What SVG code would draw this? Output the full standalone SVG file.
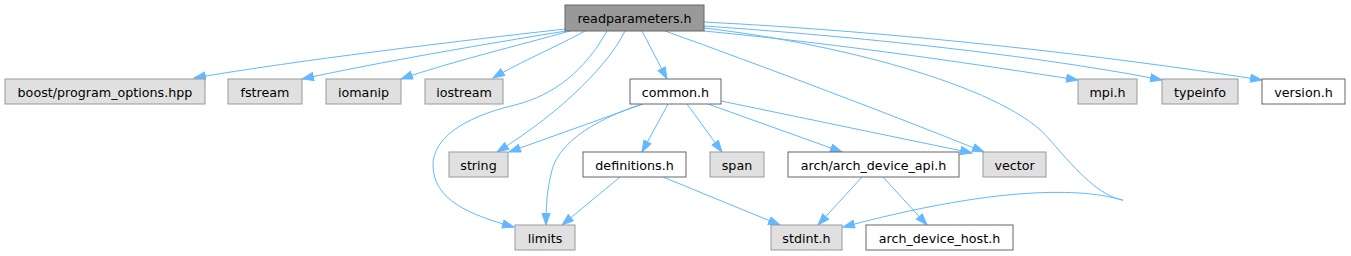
<svg xmlns="http://www.w3.org/2000/svg" width="1351" height="256" viewBox="0 0 1351 256">
<style>
.n rect{stroke-width:1}
.g rect{fill:#e0e0e0;stroke:#999999}
.w rect{fill:#ffffff;stroke:#666666}
.r rect{fill:#999999;stroke:#666666}
text{font-family:"DejaVu Sans",sans-serif;font-size:12.7px;fill:#000;text-anchor:middle}
.e path{fill:none;stroke:#63b8ff;stroke-width:1;marker-end:url(#a)}
</style>
<defs>
<marker id="a" markerUnits="userSpaceOnUse" markerWidth="13" markerHeight="10" refX="12" refY="4.5" orient="auto" viewBox="0 0 13 10">
<path d="M0.5,0.5 L12,4.5 L0.5,8.5 z" fill="#63b8ff" stroke="#63b8ff"/>
</marker>
</defs>
<rect width="1351" height="256" fill="#ffffff"/>
<g class="e" id="edges">
<path d="M565,29 C450,42 300,60 194,78"/>
<path d="M566,31 C480,45 380,62 302,79"/>
<path d="M570,31 C520,45 450,62 401,79"/>
<path d="M585,31 C560,45 520,62 493,78"/>
<path d="M607,31 C585,70 555,95 515,105 C460,118 433,140 433,165 C433,200 470,215 514,227"/>
<path d="M625,31 C610,62 565,110 497,152"/>
<path d="M642,31 L667,79"/>
<path d="M665,31 C760,65 900,118 984,152"/>
<path d="M704,28 C850,45 1010,90 1050,140 C1080,175 1100,195 1122,200 C1128,202 1110,195 1080,193 C1000,188 900,212 843,227"/>
<path d="M704,31 C850,45 980,65 1078,80"/>
<path d="M704,26 C880,38 1050,58 1162,80"/>
<path d="M704,22 C900,32 1100,55 1262,80"/>
<path d="M643,104 L509,152"/>
<path d="M642,104 C600,118 560,140 552,170 C547,190 546,205 546,225"/>
<path d="M668,104 L642,152"/>
<path d="M687,104 L722,152"/>
<path d="M708,104 L842,152"/>
<path d="M721,101 L972,153"/>
<path d="M620,177 L562,225"/>
<path d="M663,177 L780,225"/>
<path d="M862,177 L818,225"/>
<path d="M883,177 L927,225"/>
</g>
<g id="readparameters" class="n r"><rect x="565" y="5" width="139" height="26"/><text x="634.5" y="22.5">readparameters.h</text></g>
<g id="boost" class="n g"><rect x="5" y="79" width="200" height="25"/><text x="105" y="96.5">boost/program_options.hpp</text></g>
<g id="fstream" class="n g"><rect x="228" y="79" width="74" height="25"/><text x="265" y="96.5">fstream</text></g>
<g id="iomanip" class="n g"><rect x="326" y="79" width="75" height="25"/><text x="363.5" y="96.5">iomanip</text></g>
<g id="iostream" class="n g"><rect x="425" y="79" width="78" height="25"/><text x="464" y="96.5">iostream</text></g>
<g id="common" class="n w"><rect x="630" y="79" width="91" height="25"/><text x="675.5" y="96.5">common.h</text></g>
<g id="mpi" class="n g"><rect x="1078" y="79" width="59" height="25"/><text x="1107.5" y="96.5">mpi.h</text></g>
<g id="typeinfo" class="n g"><rect x="1162" y="79" width="76" height="25"/><text x="1200" y="96.5">typeinfo</text></g>
<g id="version" class="n w"><rect x="1262" y="79" width="83" height="25"/><text x="1303.5" y="96.5">version.h</text></g>
<g id="string" class="n g"><rect x="449" y="152" width="59" height="25"/><text x="478.5" y="169.5">string</text></g>
<g id="definitions" class="n w"><rect x="583" y="152" width="103" height="25"/><text x="634.5" y="169.5">definitions.h</text></g>
<g id="span" class="n g"><rect x="710" y="152" width="54" height="25"/><text x="737" y="169.5">span</text></g>
<g id="arch_device_api" class="n w"><rect x="788" y="152" width="171" height="25"/><text x="873.5" y="169.5">arch/arch_device_api.h</text></g>
<g id="vector" class="n g"><rect x="983" y="152" width="63" height="25"/><text x="1014.5" y="169.5">vector</text></g>
<g id="limits" class="n g"><rect x="515" y="225" width="60" height="25"/><text x="545" y="242.5">limits</text></g>
<g id="stdint" class="n g"><rect x="771" y="225" width="71" height="25"/><text x="806.5" y="242.5">stdint.h</text></g>
<g id="arch_device_host" class="n w"><rect x="866" y="225" width="147" height="25"/><text x="939.5" y="242.5">arch_device_host.h</text></g>
</svg>
